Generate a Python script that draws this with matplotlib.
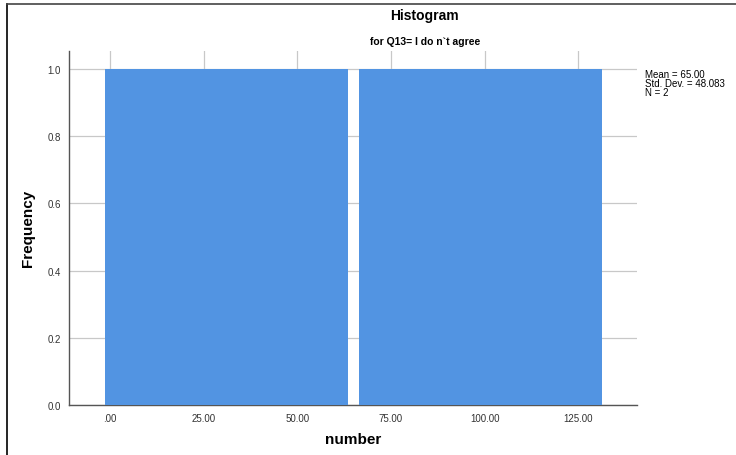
import numpy as np
import matplotlib.pyplot as plt
from matplotlib.lines import Line2D

# raw observations (Mean = 65, SD = 48.083, N = 2)
values = [31, 99]
bin_edges = [-3, 65, 133]
xticks = [0, 25, 50, 75, 100, 125]
xtick_labels = ['.00', '25.00', '50.00', '75.00', '100.00', '125.00']
yticks = [0.0, 0.2, 0.4, 0.6, 0.8, 1.0]

plt.rcParams['font.family'] = ['Liberation Sans', 'DejaVu Sans']

fig = plt.figure(figsize=(7.36, 4.56), dpi=100)
ax = fig.add_axes([69 / 736, 1 - 406 / 456, (637 - 69) / 736, (406 - 52) / 456])

ax.hist(values, bins=bin_edges, rwidth=0.955, color='#5294e2', zorder=3)

ax.set_xlim(-11, 140.7)
ax.set_ylim(0, 1.054)
ax.set_xticks(xticks)
ax.set_xticklabels(xtick_labels)
ax.set_yticks(yticks)
ax.set_yticklabels([f'{t:.1f}' for t in yticks])
ax.tick_params(length=0, labelsize=7, colors='#333333', pad=6)

ax.grid(True, color='#c8c8c8', linewidth=0.9, zorder=0)
ax.set_axisbelow(True)
for s in ['top', 'right']:
    ax.spines[s].set_visible(False)
for s in ['left', 'bottom']:
    ax.spines[s].set_color('#555555')
    ax.spines[s].set_linewidth(1.0)

fig.text(353 / 736, 1 - 440 / 456, 'number', ha='center', va='center',
         fontsize=11, fontweight='bold')
fig.text(28 / 736, 1 - 228 / 456, 'Frequency', ha='center', va='center',
         rotation=90, fontsize=11, fontweight='bold')

fig.text(424 / 736, 1 - 16 / 456, 'Histogram', ha='center', va='center',
         fontsize=10, fontweight='bold')
fig.text(425 / 736, 1 - 42 / 456, 'for Q13= I do n`t agree', ha='center',
         va='center', fontsize=7.5, fontweight='bold')

fig.text(645 / 736, 1 - 70 / 456,
         'Mean = 65.00\nStd. Dev. = 48.083\nN = 2',
         ha='left', va='top', fontsize=7, linespacing=0.9)

# frame around the chart
fig.add_artist(Line2D([7 / 736, 7 / 736], [0, 1 - 5 / 456], color='black', lw=1.2))
fig.add_artist(Line2D([7 / 736, 1], [1 - 5 / 456, 1 - 5 / 456], color='#444444', lw=1.2))

fig.savefig('out.png', dpi=100)
